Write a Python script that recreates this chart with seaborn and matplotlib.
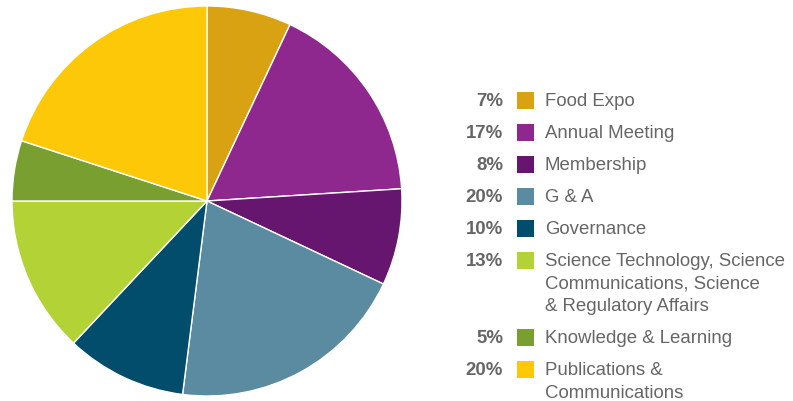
import matplotlib
matplotlib.use("Agg")
import matplotlib.pyplot as plt
import seaborn as sns
from matplotlib.patches import Rectangle

labels = ["Food Expo", "Annual Meeting", "Membership", "G & A", "Governance",
          "Science Technology, Science\nCommunications, Science\n& Regulatory Affairs",
          "Knowledge & Learning", "Publications &\nCommunications"]
shares = [7, 17, 8, 20, 10, 13, 5, 20]
colors = ["#D9A213", "#8E278E", "#66166E", "#5B8BA1", "#024C6C",
          "#B3D236", "#7A9F31", "#FDC808"]

sns.set_theme(style="white")
plt.rcParams["font.family"] = ["Liberation Sans", "DejaVu Sans"]
text_color = "#666666"

W, H = 793, 402
fig = plt.figure(figsize=(W / 100, H / 100), dpi=100)

# pie
cx, cy, r = 207, 202, 195
ax = fig.add_axes([(cx - r) / W, (H - cy - r) / H, 2 * r / W, 2 * r / H])
ax.pie(shares, colors=colors, startangle=90, counterclock=False,
       wedgeprops=dict(edgecolor="white", linewidth=1))
ax.set_xlim(-1, 1)
ax.set_ylim(-1, 1)
ax.axis("off")

# legend drawn in pixel coordinates
lax = fig.add_axes([0, 0, 1, 1])
lax.set_xlim(0, W)
lax.set_ylim(H, 0)
lax.axis("off")

y = 101
for lab, val, col in zip(labels, shares, colors):
    lax.text(503, y + 1, f"{val}%", ha="right", va="center", fontsize=13.4,
             fontweight="bold", color=text_color)
    lax.add_patch(Rectangle((517, y - 8.5), 17, 17, color=col, lw=0))
    lines = lab.split("\n")
    for i, line in enumerate(lines):
        lax.text(545, y + 1 + i * 22.5, line, ha="left", va="center",
                 fontsize=13.4, color=text_color)
    y += 32 + (len(lines) - 1) * 22.5

fig.savefig("out.png", dpi=100)
